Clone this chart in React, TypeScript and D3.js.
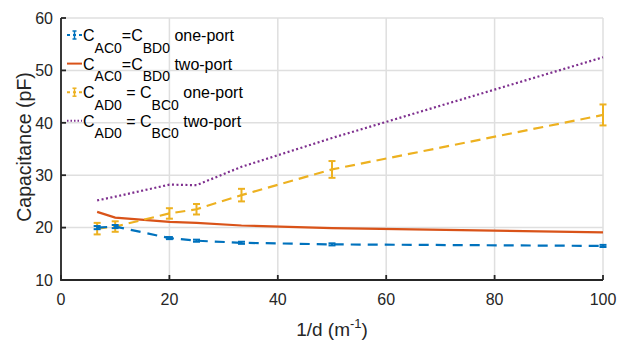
import { useRef, useEffect } from "react";
import * as d3 from "d3";

// 1/d values (m^-1)
const invD = [6.67, 10, 20, 25, 33.3, 50, 100];

const acOnePort = [20.0, 20.2, 18.0, 17.5, 17.1, 16.8, 16.5];
const acOnePortErr = [0.3, 0.3, 0.2, 0.2, 0.2, 0.2, 0.2];
const acTwoPort = [23.0, 21.9, 21.1, 20.9, 20.4, 19.9, 19.1];
const adOnePort = [19.8, 20.2, 22.7, 23.5, 26.2, 31.1, 41.5];
const adOnePortErr = [1.1, 1.0, 1.0, 1.0, 1.2, 1.6, 2.0];
const adTwoPort = [25.2, 25.9, 28.2, 28.1, 31.6, 37.1, 52.5];

const xTicks = [0, 20, 40, 60, 80, 100];
const yTicks = [10, 20, 30, 40, 50, 60];

export default function App() {
  const svgRef = useRef(null);

  useEffect(() => {
    document.body.style.margin = "0";
    const W = 619, H = 341;
    const svg = d3.select(svgRef.current);
    svg.selectAll("*").remove();
    svg.attr("width", W).attr("height", H);

    const x = d3.scaleLinear().domain([0, 100]).range([61, 603]);
    const y = d3.scaleLinear().domain([10, 60]).range([280, 18]);
    const font = "'Liberation Sans', Arial, Helvetica, sans-serif";
    const g = svg.append("g");

    // grid
    g.selectAll(".gx").data(xTicks).join("line")
      .attr("x1", d => x(d)).attr("x2", d => x(d))
      .attr("y1", y(10)).attr("y2", y(60))
      .attr("stroke", "#dfdfdf").attr("stroke-width", 1.5);
    g.selectAll(".gy").data(yTicks).join("line")
      .attr("x1", x(0)).attr("x2", x(100))
      .attr("y1", d => y(d)).attr("y2", d => y(d))
      .attr("stroke", "#dfdfdf").attr("stroke-width", 1.5);

    const line = d3.line<[number, number]>().x(d => x(d[0])).y(d => y(d[1]));
    const pts = (v: number[]) => invD.map((d, i) => [d, v[i]] as [number, number]);

    const series = [
      { v: acTwoPort, color: "#D95319", dash: null as string | null, err: null as number[] | null },
      { v: adTwoPort, color: "#7E2F8E", dash: "2,2.5", err: null },
      { v: adOnePort, color: "#EDB120", dash: "10,6", err: adOnePortErr },
      { v: acOnePort, color: "#0072BD", dash: "10,7", err: acOnePortErr },
    ];

    series.forEach(s => {
      g.append("path")
        .attr("d", line(pts(s.v)))
        .attr("fill", "none")
        .attr("stroke", s.color)
        .attr("stroke-width", 2.2)
        .attr("stroke-dasharray", s.dash);
      if (s.err) {
        const eb = g.append("g").attr("stroke", s.color).attr("stroke-width", 2);
        invD.forEach((d, i) => {
          const cx = x(d), lo = y(s.v[i] - s.err![i]), hi = y(s.v[i] + s.err![i]);
          eb.append("line").attr("x1", cx).attr("x2", cx).attr("y1", lo).attr("y2", hi);
          eb.append("line").attr("x1", cx - 3.5).attr("x2", cx + 3.5).attr("y1", lo).attr("y2", lo);
          eb.append("line").attr("x1", cx - 3.5).attr("x2", cx + 3.5).attr("y1", hi).attr("y2", hi);
        });
      }
    });

    // axes (left + bottom)
    const axisColor = "#262626";
    g.append("path")
      .attr("d", `M${x(0)},${y(60)}V${y(10)}H${x(100)}`)
      .attr("fill", "none").attr("stroke", axisColor).attr("stroke-width", 1.8);
    g.selectAll(".ty").data(yTicks).join("line")
      .attr("x1", x(0)).attr("x2", x(0) + 5)
      .attr("y1", d => y(d)).attr("y2", d => y(d))
      .attr("stroke", axisColor).attr("stroke-width", 1.8);
    g.selectAll(".tx").data(xTicks).join("line")
      .attr("x1", d => x(d)).attr("x2", d => x(d))
      .attr("y1", y(10)).attr("y2", y(10) - 5)
      .attr("stroke", axisColor).attr("stroke-width", 1.8);

    g.selectAll(".ly").data(yTicks).join("text")
      .attr("x", x(0) - 8).attr("y", d => y(d)).attr("dy", "0.36em")
      .attr("text-anchor", "end").attr("font-family", font).attr("font-size", 16)
      .attr("fill", axisColor).text(d => d);
    g.selectAll(".lx").data(xTicks).join("text")
      .attr("x", d => x(d)).attr("y", 305)
      .attr("text-anchor", "middle").attr("font-family", font).attr("font-size", 16)
      .attr("fill", axisColor).text(d => d);

    // axis titles
    g.append("text")
      .attr("transform", `translate(31,147) rotate(-90)`)
      .attr("text-anchor", "middle").attr("font-family", font).attr("font-size", 19.5)
      .attr("fill", axisColor).text("Capacitance (pF)");
    const xt = g.append("text")
      .attr("x", (x(0) + x(100)) / 2).attr("y", 336)
      .attr("text-anchor", "middle").attr("font-family", font).attr("font-size", 19)
      .attr("fill", axisColor);
    xt.append("tspan").text("1/d (m");
    xt.append("tspan").attr("dy", -8).attr("font-size", 13).text("-1");
    xt.append("tspan").attr("dy", 8).text(")");

    // legend
    const legend = [
      { a: "AC0", eq: "=", b: "BD0", tail: "one-port", color: "#0072BD", dash: "3,3", bar: true },
      { a: "AC0", eq: "=", b: "BD0", tail: "two-port", color: "#D95319", dash: null, bar: false },
      { a: "AD0", eq: " = ", b: "BC0", tail: "one-port", color: "#EDB120", dash: "3,3", bar: true },
      { a: "AD0", eq: " = ", b: "BC0", tail: "two-port", color: "#7E2F8E", dash: "1.5,2", bar: false },
    ];
    legend.forEach((L, i) => {
      const base = 41 + i * 28.6;
      const cy = base - 6;
      const lg = g.append("g");
      lg.append("line").attr("x1", 67).attr("x2", 82).attr("y1", cy).attr("y2", cy)
        .attr("stroke", L.color).attr("stroke-width", 2).attr("stroke-dasharray", L.dash);
      if (L.bar) {
        const b = lg.append("g").attr("stroke", L.color).attr("stroke-width", 1.5);
        b.append("line").attr("x1", 74.5).attr("x2", 74.5).attr("y1", cy - 4).attr("y2", cy + 4);
        b.append("line").attr("x1", 72.5).attr("x2", 76.5).attr("y1", cy - 4).attr("y2", cy - 4);
        b.append("line").attr("x1", 72.5).attr("x2", 76.5).attr("y1", cy + 4).attr("y2", cy + 4);
      }
      const t = lg.append("text").attr("x", 83).attr("y", base)
        .attr("font-family", font).attr("font-size", 16).attr("fill", "#000");
      t.append("tspan").text("C");
      t.append("tspan").attr("dy", 11.5).attr("font-size", 14).text(L.a);
      t.append("tspan").attr("dy", -11.5).text(L.eq + "C");
      t.append("tspan").attr("dy", 11.5).attr("font-size", 14).text(L.b);
      t.append("tspan").attr("dy", -11.5).text(" " + L.tail);
    });
  }, []);

  return (
    <div style={{ width: 619, height: 341, overflow: "hidden", background: "#fff" }}>
      <svg ref={svgRef} style={{ display: "block" }} />
    </div>
  );
}
